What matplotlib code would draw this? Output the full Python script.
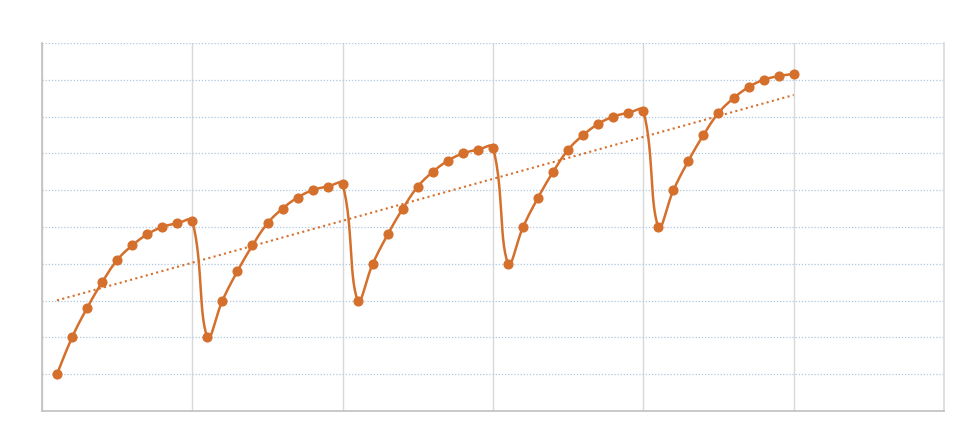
import numpy as np
import matplotlib
matplotlib.use('Agg')
import matplotlib.pyplot as plt

# values (grid units of 10)
x = np.arange(1, 51)
seg1 = [10, 20, 28, 35, 41, 45, 48, 50, 51, 51.6]
seg2 = [20, 30, 38, 45, 51, 55, 58, 60, 61, 61.6]
seg3 = [30, 40, 48, 55, 61, 65, 68, 70, 71, 71.6]
seg4 = [40, 50, 58, 65, 71, 75, 78, 80, 81, 81.6]
seg5 = [50, 60, 68, 75, 81, 85, 88, 90, 91, 91.6]
y = np.array(seg1 + seg2 + seg3 + seg4 + seg5)

ORANGE = '#D56F2C'
XPX, YPX = 902 / 60, 368 / 100  # pixels per data unit


def smooth(xs, ys, n=30, tension=0.4):
    # bezier smoothing in screen space, control arms scaled by segment length
    P = np.column_stack([xs * XPX, ys * YPX])
    N = len(P)
    cin = P.copy()
    cout = P.copy()
    for i in range(1, N - 1):
        d = P[i + 1] - P[i - 1]
        lp = np.hypot(*(P[i] - P[i - 1]))
        ln = np.hypot(*(P[i + 1] - P[i]))
        cin[i] = P[i] - d * tension * lp / (lp + ln)
        cout[i] = P[i] + d * tension * ln / (lp + ln)
    out = []
    s = np.linspace(0, 1, n, endpoint=False)[:, None]
    for i in range(N - 1):
        a, b, c, e = P[i], cout[i], cin[i + 1], P[i + 1]
        pts = (1 - s)**3 * a + 3 * (1 - s)**2 * s * b + 3 * (1 - s) * s**2 * c + s**3 * e
        out.append(pts)
    out.append(P[-1:])
    out = np.vstack(out)
    return out[:, 0] / XPX, out[:, 1] / YPX


fig = plt.figure(figsize=(9.73, 4.41), dpi=100)
ax = fig.add_axes([42 / 973, 30 / 441, 902 / 973, 368 / 441])

sx, sy = smooth(x.astype(float), y.astype(float))
ax.plot(sx, sy, color=ORANGE, linewidth=1.8, zorder=3)
ax.plot(x, y, 'o', color=ORANGE, markersize=6.3, zorder=4)

# linear trendline
k, b = np.polyfit(x, y, 1)
ax.plot([x[0], x[-1]], [k * x[0] + b, k * x[-1] + b], color=ORANGE,
        linewidth=1.5, linestyle=(0, (1, 1.6)), zorder=2)

ax.set_xlim(0, 60)
ax.set_ylim(0, 100)
ax.set_xticks(np.arange(0, 61, 10))
ax.set_yticks(np.arange(0, 101, 10))
ax.tick_params(length=0, labelleft=False, labelbottom=False)

ax.grid(axis='y', color='#ADC9E2', linestyle=(0, (1, 1.5)), linewidth=0.9)
ax.grid(axis='x', color='#D9D9D9', linestyle='-', linewidth=1)
ax.set_axisbelow(True)

ax.spines['top'].set_visible(False)
ax.spines['right'].set_color('#D9D9D9')
ax.spines['left'].set_color('#C0C0C0')
ax.spines['bottom'].set_color('#C0C0C0')
for s in ax.spines.values():
    s.set_linewidth(1.2)

fig.savefig('out.png', dpi=100)
